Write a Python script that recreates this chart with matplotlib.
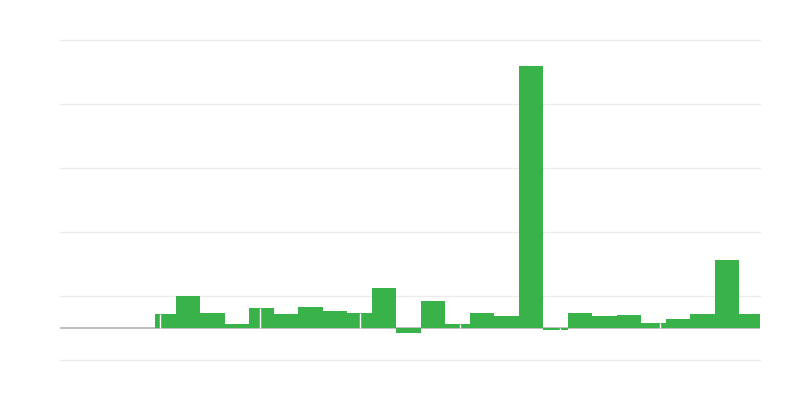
import numpy as np
import matplotlib
matplotlib.use("Agg")
import matplotlib.pyplot as plt

# weekly values
weeks = np.arange(25)
values = [22, 50, 23, 6, 32, 22, 33, 27, 23, 63,
          -8, 42, 6, 23, 18, 409, -3, 23, 18, 20,
          8, 14, 22, 106, 22]
grid_levels = [-50, 50, 150, 250, 350, 450]

fig = plt.figure(figsize=(8, 4), dpi=100)
ax = fig.add_axes([60 / 800, 40 / 400, 700 / 800, 320 / 400])

# first week only partly covered by data
widths = np.ones(len(weeks))
lefts = weeks.astype(float)
lefts[0] += 0.14
widths[0] -= 0.14
ax.bar(lefts, values, width=widths, align="edge", color="#39b24a",
       linewidth=0, zorder=3)

# thin white separators seen in the bars every ~4 weeks
for k in range(6):
    xs = 0.33 + k * 100 / 24.5
    v = values[int(xs)]
    ax.vlines(xs, 0, v, color="white", lw=1.0, zorder=4)

ax.axhline(0, color="#b3b3b3", lw=1.2, zorder=2)
for g in grid_levels:
    ax.axhline(g, color="#ececec", lw=1.0, zorder=1, clip_on=False)

ax.set_xlim(-3.735, 24.84)
ax.set_ylim(-50, 450)
ax.set_xticks([])
ax.set_yticks([])
for s in ax.spines.values():
    s.set_visible(False)

fig.savefig("out.png", dpi=100, facecolor="white")
